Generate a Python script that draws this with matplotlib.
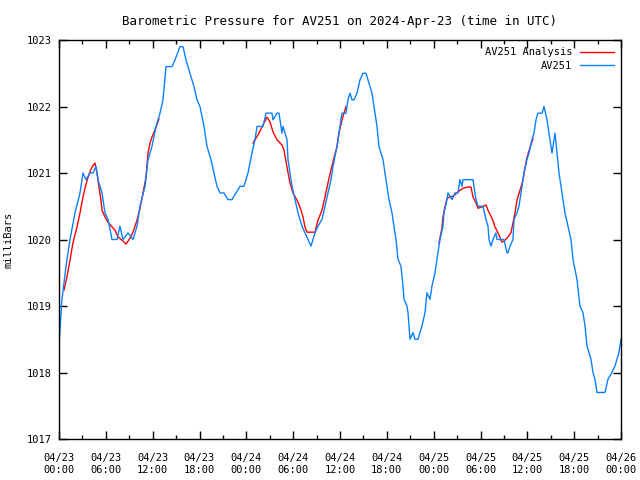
import numpy as np
import matplotlib
matplotlib.use("Agg")
import matplotlib.pyplot as plt
from matplotlib.ticker import MultipleLocator

# hours since 2024-04-23 00:00 UTC, pressure in millibars
obs_hours = [0.0, 0.38, 0.9, 1.41, 2.05, 2.69, 3.07, 3.46, 3.97, 4.36, 4.74, 5.0, 5.51, 5.89,
             6.28, 6.79, 7.43, 7.81, 8.2, 8.84, 9.48, 9.99, 10.38, 11.02, 11.4, 11.91, 12.43,
             12.94, 13.32, 13.71, 14.48, 14.86, 15.5, 15.89, 16.27, 16.78, 17.29, 17.68, 18.06,
             18.58, 18.96, 19.47, 19.86, 20.24, 20.63, 21.14, 21.65, 22.16, 22.67, 23.19, 23.7,
             24.21, 24.72, 25.11, 25.37, 26.13, 26.52, 27.29, 27.41, 27.93, 28.18, 28.57, 28.7,
             29.21, 29.34, 29.59, 29.85, 30.23, 30.62, 31.13, 31.51, 31.9, 32.28, 32.8, 33.18,
             33.69, 34.08, 34.46, 34.85, 35.1, 35.61, 36.0, 36.25, 36.77, 37.02, 37.28, 37.54,
             37.79, 38.18, 38.56, 38.94, 39.33, 39.59, 40.1, 40.48, 40.74, 40.99, 41.51, 41.76,
             42.02, 42.28, 42.66, 42.92, 43.17, 43.43, 43.81, 44.07, 44.2, 44.58, 44.71, 44.97,
             45.35, 45.61, 45.99, 46.5, 46.89, 47.14, 47.53, 47.78, 48.17, 48.42, 48.81, 49.19,
             49.32, 49.71, 49.83, 50.35, 50.73, 51.11, 51.37, 51.63, 51.76, 53.04, 53.16, 53.42,
             53.68, 54.32, 54.7, 54.96, 55.09, 55.34, 55.6, 55.98, 56.11, 56.5, 57.01, 57.39,
             57.52, 57.78, 58.16, 58.29, 58.67, 58.93, 59.31, 59.57, 59.95, 60.21, 60.59, 60.85,
             61.11, 61.36, 61.88, 62.14, 62.52, 62.77, 63.16, 63.29, 63.54, 63.8, 64.06, 64.44,
             64.82, 65.21, 65.59, 65.85, 66.36, 66.74, 67.13, 67.39, 67.64, 68.15, 68.41, 68.67,
             68.92, 69.95, 70.33, 70.84, 71.23, 71.74, 72.0]
obs_mb = [1018.4, 1019.1, 1019.6, 1020.0, 1020.4, 1020.7, 1021.0, 1020.9, 1021.0, 1021.0, 1021.1,
          1020.9, 1020.7, 1020.4, 1020.3, 1020.0, 1020.0, 1020.2, 1020.0, 1020.1, 1020.0, 1020.2,
          1020.5, 1020.8, 1021.2, 1021.4, 1021.7, 1021.9, 1022.1, 1022.6, 1022.6, 1022.7, 1022.9,
          1022.9, 1022.7, 1022.5, 1022.3, 1022.1, 1022.0, 1021.7, 1021.4, 1021.2, 1021.0, 1020.8,
          1020.7, 1020.7, 1020.6, 1020.6, 1020.7, 1020.8, 1020.8, 1021.0, 1021.3, 1021.5, 1021.7,
          1021.7, 1021.9, 1021.9, 1021.8, 1021.9, 1021.9, 1021.6, 1021.7, 1021.5, 1021.2, 1021.0,
          1020.8, 1020.6, 1020.4, 1020.2, 1020.1, 1020.0, 1019.9, 1020.1, 1020.2, 1020.3, 1020.5,
          1020.7, 1020.9, 1021.1, 1021.4, 1021.7, 1021.9, 1021.9, 1022.1, 1022.2, 1022.1, 1022.1,
          1022.2, 1022.4, 1022.5, 1022.5, 1022.4, 1022.2, 1021.9, 1021.7, 1021.4, 1021.2, 1021.0,
          1020.8, 1020.6, 1020.4, 1020.2, 1020.0, 1019.7, 1019.6, 1019.3, 1019.1, 1019.0, 1018.9,
          1018.5, 1018.6, 1018.5, 1018.5, 1018.7, 1018.9, 1019.2, 1019.1, 1019.3, 1019.5, 1019.7,
          1020.0, 1020.2, 1020.4, 1020.6, 1020.7, 1020.6, 1020.7, 1020.7, 1020.9, 1020.8, 1020.9,
          1020.9, 1020.8, 1020.6, 1020.5, 1020.5, 1020.3, 1020.2, 1020.0, 1019.9, 1020.0, 1020.1,
          1020.0, 1020.0, 1020.0, 1019.8, 1019.8, 1019.9, 1020.0, 1020.3, 1020.4, 1020.5, 1020.8,
          1021.0, 1021.2, 1021.3, 1021.5, 1021.6, 1021.8, 1021.9, 1021.9, 1022.0, 1021.8, 1021.6,
          1021.3, 1021.4, 1021.6, 1021.3, 1021.0, 1020.7, 1020.4, 1020.2, 1020.0, 1019.7, 1019.4,
          1019.0, 1018.9, 1018.7, 1018.4, 1018.2, 1018.0, 1017.9, 1017.7, 1017.7, 1017.9, 1018.0,
          1018.1, 1018.3, 1018.5]

# analysis series, three separate pieces
ana_hours_1 = [0.64, 1.02, 1.41, 1.79, 2.31, 2.69, 3.07, 3.59, 3.97, 4.23, 4.61, 4.87, 5.12, 5.38,
               5.51, 5.89, 6.28, 6.79, 7.17, 7.56, 8.07, 8.58, 9.1, 9.48, 9.99, 10.38, 10.76,
               11.15, 11.4, 11.66, 11.91, 12.3, 12.68, 12.81]
ana_mb_1 = [1019.24, 1019.44, 1019.69, 1019.95, 1020.19, 1020.4, 1020.64, 1020.89, 1021.02,
            1021.09, 1021.15, 1021.0, 1020.79, 1020.59, 1020.44, 1020.34, 1020.26, 1020.19,
            1020.14, 1020.04, 1019.99, 1019.93, 1020.02, 1020.11, 1020.29, 1020.47, 1020.7,
            1020.94, 1021.3, 1021.45, 1021.54, 1021.65, 1021.77, 1021.81]
ana_hours_2 = [24.85, 25.49, 26.13, 26.65, 27.03, 27.41, 27.93, 28.57, 28.82, 29.21, 29.59, 29.98,
               30.49, 30.87, 31.26, 31.51, 31.77, 32.8, 33.18, 33.69, 34.08, 34.46, 34.85, 35.23,
               35.61, 35.87, 36.25, 36.51, 36.77]
ana_mb_2 = [1021.45, 1021.57, 1021.72, 1021.84, 1021.77, 1021.62, 1021.5, 1021.42, 1021.35,
            1021.09, 1020.85, 1020.7, 1020.59, 1020.49, 1020.34, 1020.19, 1020.11, 1020.11,
            1020.29, 1020.44, 1020.64, 1020.85, 1021.05, 1021.23, 1021.39, 1021.6, 1021.8,
            1021.9, 1022.0]
ana_hours_3 = [48.68, 49.06, 49.19, 49.45, 49.71, 50.09, 50.47, 50.99, 51.37, 51.76, 52.4, 52.78,
               53.04, 53.42, 53.68, 54.19, 54.7, 54.96, 55.47, 55.86, 56.24, 56.75, 57.14, 57.52,
               57.9, 58.16, 58.42, 58.67, 59.06, 59.44, 59.7, 59.95, 60.33, 60.72]
ana_mb_3 = [1019.95, 1020.17, 1020.34, 1020.49, 1020.62, 1020.64, 1020.65, 1020.7, 1020.74,
            1020.77, 1020.79, 1020.79, 1020.64, 1020.55, 1020.47, 1020.49, 1020.52, 1020.44,
            1020.32, 1020.19, 1020.1, 1019.96, 1019.99, 1020.04, 1020.1, 1020.25, 1020.4,
            1020.59, 1020.74, 1020.89, 1021.08, 1021.23, 1021.38, 1021.51]

xtick_labels = ["04/23\n00:00", "04/23\n06:00", "04/23\n12:00", "04/23\n18:00",
                "04/24\n00:00", "04/24\n06:00", "04/24\n12:00", "04/24\n18:00",
                "04/25\n00:00", "04/25\n06:00", "04/25\n12:00", "04/25\n18:00",
                "04/26\n00:00"]
ytick_values = [1017, 1018, 1019, 1020, 1021, 1022, 1023]

plt.rcParams['font.family'] = ['DejaVu Sans Mono']
plt.rcParams['font.size'] = 7.5

fig = plt.figure(figsize=(6.4, 4.8), dpi=100)
ax = fig.add_axes([59/640, 41/480, 562/640, 399/480])

red = '#ff0000'
blue = '#0a80ff'
ax.plot(ana_hours_1, ana_mb_1, color=red, lw=1, label='AV251 Analysis')
ax.plot(ana_hours_2, ana_mb_2, color=red, lw=1)
ax.plot(ana_hours_3, ana_mb_3, color=red, lw=1)
ax.plot(obs_hours, obs_mb, color=blue, lw=1, label='AV251')

ax.set_xlim(0, 72)
ax.set_ylim(1017, 1023)
ax.set_xticks(np.arange(0, 73, 6))
ax.set_xticklabels(xtick_labels, linespacing=1.3)
ax.xaxis.set_minor_locator(MultipleLocator(3))
ax.set_yticks(ytick_values)
ax.tick_params(which='both', direction='in', top=True, right=True, colors='black')
ax.tick_params(axis='x', which='major', pad=10)
ax.tick_params(axis='y', which='major', pad=5)
ax.tick_params(which='major', length=6, width=1)
ax.tick_params(which='minor', length=3, width=1)
for s in ax.spines.values():
    s.set_linewidth(1)

ax.set_ylabel('milliBars', labelpad=10)
ax.set_title('Barometric Pressure for AV251 on 2024-Apr-23 (time in UTC)', pad=11)

leg = ax.legend(loc='upper right', frameon=False, markerfirst=False, handlelength=3.2,
                borderaxespad=0.3, labelspacing=0.35, handletextpad=0.8)
for t in leg.get_texts():
    t.set_ha('right')

fig.savefig('out.png', dpi=100)
